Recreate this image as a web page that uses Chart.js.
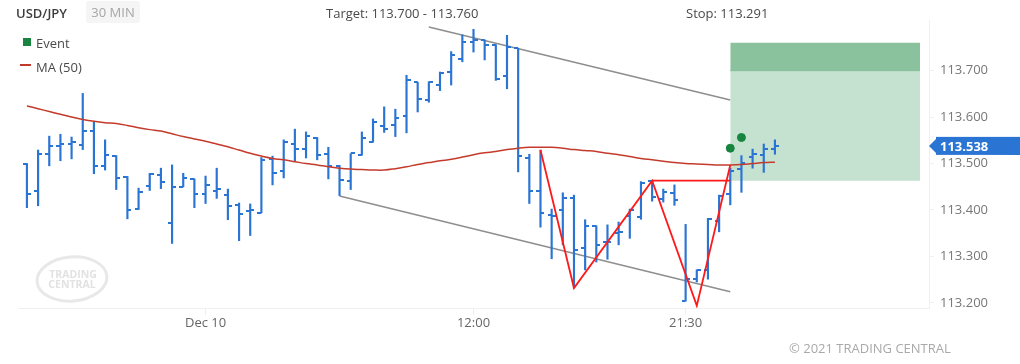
<!DOCTYPE html>
<html>
<head>
<meta charset="utf-8">
<script src="https://cdn.jsdelivr.net/npm/chart.js@4.4.0/dist/chart.umd.min.js"></script>
<style>
body { margin: 0; background: #fff; font-family: "Open Sans", sans-serif; }
#wrap { position: relative; width: 1020px; height: 364px; overflow: hidden; }
canvas { position: absolute; left: 0; top: 0; }
.t { position: absolute; font-size: 13px; color: #4a4a4a; white-space: nowrap; line-height: 18px; }
</style>
</head>
<body>
<div id="wrap">
  <canvas id="chart" width="1020" height="364"></canvas>
  <div class="t" style="left:16px;top:4px;font-weight:600;color:#3d3d3d;">USD/JPY</div>
  <div class="t" style="left:86px;top:1px;width:54px;height:22px;line-height:22px;text-align:center;background:#f5f5f5;border-radius:3px;color:#a6a6a6;">30 MIN</div>
  <div class="t" style="left:326px;top:4px;">Target: 113.700 - 113.760</div>
  <div class="t" style="left:686px;top:4px;">Stop: 113.291</div>
  <div style="position:absolute;left:23px;top:38px;width:8px;height:8px;background:#17843f;"></div>
  <div class="t" style="left:36px;top:34px;">Event</div>
  <div style="position:absolute;left:20px;top:64px;width:11px;height:2px;background:#c0392b;"></div>
  <div class="t" style="left:36px;top:58px;">MA (50)</div>
  <div class="t" style="left:789px;top:339px;color:#a9a9a9;">© 2021 TRADING CENTRAL</div>
</div>
<script>
// 30 min bars, index 0 = Dec 9 16:00
const opens  = [113.498,113.440,113.520,113.537,113.542,113.539,113.569,113.494,113.517,113.472,
                113.403,113.451,113.476,113.371,113.450,113.467,113.434,113.440,113.432,113.410,
                113.397,113.394,113.510,113.485,113.543,113.532,113.556,113.521,113.495,113.462,
                113.519,113.546,113.580,113.582,113.602,113.675,113.637,113.670,113.698,113.726,
                113.761,113.766,113.756,113.688,113.748,113.512,113.441,113.389,113.400,113.425,
                113.319,113.366,113.332,113.350,113.388,113.385,113.462,113.424,113.437,113.204,
                113.251,113.271,113.377,113.434,113.488,113.514,113.519,113.531];
const highs  = [113.500,113.529,113.559,113.563,113.557,113.651,113.591,113.551,113.517,113.472,
                113.447,113.479,113.490,113.497,113.479,113.467,113.473,113.490,113.445,113.415,
                113.413,113.513,113.516,113.551,113.574,113.568,113.556,113.535,113.496,113.521,
                113.568,113.596,113.622,113.617,113.690,113.675,113.676,113.697,113.741,113.777,
                113.789,113.766,113.756,113.776,113.748,113.520,113.529,113.402,113.437,113.432,
                113.379,113.366,113.368,113.374,113.402,113.461,113.462,113.445,113.454,113.369,
                113.271,113.382,113.432,113.490,113.517,113.531,113.542,113.551];
const lows   = [113.405,113.409,113.495,113.506,113.510,113.530,113.478,113.486,113.444,113.381,
                113.401,113.442,113.446,113.328,113.450,113.405,113.414,113.425,113.379,113.334,
                113.345,113.394,113.454,113.469,113.505,113.512,113.508,113.467,113.431,113.444,
                113.518,113.546,113.567,113.558,113.566,113.611,113.632,113.657,113.669,113.719,
                113.740,113.723,113.679,113.661,113.482,113.414,113.363,113.295,113.325,113.232,
                113.271,113.288,113.294,113.325,113.339,113.380,113.419,113.417,113.410,113.204,
                113.245,113.251,113.353,113.411,113.438,113.490,113.481,113.520];
const closes = [113.435,113.520,113.537,113.542,113.546,113.569,113.494,113.518,113.468,113.399,
                113.438,113.477,113.460,113.449,113.469,113.435,113.453,113.445,113.408,113.392,
                113.399,113.508,113.479,113.546,113.532,113.560,113.519,113.495,113.464,113.522,
                113.555,113.590,113.574,113.597,113.680,113.638,113.675,113.694,113.733,113.761,
                113.766,113.756,113.681,113.751,113.516,113.441,113.393,113.388,113.425,113.314,
                113.366,113.325,113.331,113.353,113.400,113.458,113.429,113.438,113.422,113.251,
                113.271,113.380,113.431,113.484,113.502,113.520,113.531,113.538];
const ma50   = [113.624,113.618,113.612,113.606,113.600,113.595,113.591,113.588,113.586,113.582,
                113.577,113.573,113.570,113.564,113.558,113.553,113.548,113.542,113.536,113.529,
                113.522,113.516,113.511,113.508,113.504,113.500,113.497,113.493,113.490,113.488,
                113.487,113.486,113.486,113.489,113.493,113.498,113.502,113.506,113.509,113.514,
                113.519,113.523,113.526,113.530,113.533,113.535,113.535,113.535,113.533,113.530,
                113.528,113.526,113.522,113.519,113.515,113.511,113.508,113.505,113.502,113.500,
                113.499,113.498,113.497,113.497,113.498,113.500,113.502,113.503];

const eventIdx = [63, 64];
const eventVal = [113.533, 113.556];

const channelUpper = [[36, 113.794], [63, 113.637]];
const channelLower = [[28, 113.430], [63, 113.224]];
const zigzag = [[46, 113.529], [49, 113.232], [56, 113.463], [60, 113.194], [63, 113.497]];
const neckline = [[56, 113.463], [63, 113.463]];

const zoneStart = 63, zoneEnd = 80;
const entry = 113.463, target1 = 113.700, target2 = 113.760;

const xTickPos = [16, 40, 59];
const xTickLabels = ['Dec 10', '12:00', '21:30'];
const yTicks = [113.2, 113.3, 113.4, 113.5, 113.6, 113.7];

const BLUE = '#2a74d4';

function tickImg(side) {
  const c = document.createElement('canvas');
  c.width = 8; c.height = 2;
  const g = c.getContext('2d');
  g.fillStyle = BLUE;
  if (side < 0) g.fillRect(0, 0, 4, 2); else g.fillRect(4, 0, 4, 2);
  return c;
}

const pts = arr => arr.map(p => ({x: p[0], y: p[1]}));

const lastPrice = {
  id: 'lastPrice',
  afterDraw(chart) {
    const g = chart.ctx, y = chart.scales.y.getPixelForValue(closes[closes.length - 1]);
    const x0 = chart.chartArea.right;
    g.save();
    g.fillStyle = BLUE;
    g.beginPath();
    g.moveTo(x0, y);
    g.lineTo(x0 + 7, y - 7);
    g.lineTo(1020, y - 9);
    g.lineTo(1020, y + 9);
    g.lineTo(x0 + 7, y + 7);
    g.closePath();
    g.fill();
    g.fillRect(x0 + 7, y - 9, 1020 - x0 - 7, 18);
    g.fillStyle = '#fff';
    g.font = 'bold 13px "Open Sans"';
    g.textBaseline = 'middle';
    g.fillText(closes[closes.length - 1].toFixed(3), x0 + 11, y + 1);
    g.restore();
  }
};

const watermark = {
  id: 'watermark',
  beforeDatasetsDraw(chart) {
    const g = chart.ctx;
    g.save();
    g.strokeStyle = '#e8e8e8';
    g.lineWidth = 3;
    g.beginPath();
    g.ellipse(72, 279, 35, 22, -0.08, 0, Math.PI * 2);
    g.stroke();
    g.fillStyle = '#e2e2e2';
    g.font = 'bold 10.5px "Open Sans"';
    g.textAlign = 'center';
    g.fillText('TRADING', 73, 278);
    g.fillText('CENTRAL', 72, 288);
    g.restore();
  }
};

new Chart(document.getElementById('chart'), {
  type: 'bar',
  data: {
    datasets: [
      {
        type: 'line', label: 'target', order: 20,
        data: [{x: zoneStart, y: target2}, {x: zoneEnd, y: target2}],
        fill: {value: target1}, backgroundColor: '#8bc29e', borderWidth: 0, pointRadius: 0
      },
      {
        type: 'line', label: 'zone', order: 21,
        data: [{x: zoneStart, y: target1}, {x: zoneEnd, y: target1}],
        fill: {value: entry}, backgroundColor: '#c5e1d0', borderColor: '#72b68c', borderWidth: 1, pointRadius: 0
      },
      {
        type: 'line', label: 'upper', order: 8, data: pts(channelUpper),
        borderColor: '#8e8e8e', borderWidth: 1.5, pointRadius: 0
      },
      {
        type: 'line', label: 'lower', order: 8, data: pts(channelLower),
        borderColor: '#8e8e8e', borderWidth: 1.5, pointRadius: 0
      },
      {
        label: 'range', order: 5,
        data: lows.map((l, i) => ({x: i, y: [l, highs[i]]})),
        backgroundColor: BLUE, barThickness: 1.5, grouped: false
      },
      {
        type: 'scatter', label: 'open', order: 4,
        data: opens.map((v, i) => ({x: i, y: v})),
        pointStyle: tickImg(-1), pointRadius: 4
      },
      {
        type: 'scatter', label: 'close', order: 4,
        data: closes.map((v, i) => ({x: i, y: v})),
        pointStyle: tickImg(1), pointRadius: 4
      },
      {
        type: 'line', label: 'MA (50)', order: 3,
        data: ma50.map((v, i) => ({x: i, y: v})),
        borderColor: '#c43b2c', borderWidth: 1.5, pointRadius: 0, tension: 0.4
      },
      {
        type: 'line', label: 'pattern', order: 2, data: pts(zigzag),
        borderColor: '#ff1a1a', borderWidth: 1.8, pointRadius: 0
      },
      {
        type: 'line', label: 'neck', order: 2, data: pts(neckline),
        borderColor: '#ff1a1a', borderWidth: 1.8, pointRadius: 0
      },
      {
        type: 'scatter', label: 'Event', order: 1,
        data: eventIdx.map((x, i) => ({x: x, y: eventVal[i]})),
        backgroundColor: '#17843f', borderColor: '#17843f', pointRadius: 4
      }
    ]
  },
  options: {
    responsive: false,
    animation: false,
    layout: { padding: { top: 20, left: 18, right: 0, bottom: 0 } },
    plugins: { legend: { display: false }, tooltip: { enabled: false } },
    scales: {
      x: {
        type: 'linear', min: -0.8, max: 80.8, offset: false,
        grid: { offset: false, drawOnChartArea: false, tickLength: 7, color: '#eeeeee' },
        border: { color: '#f0f0f0' },
        afterBuildTicks: s => { s.ticks = xTickPos.map(v => ({value: v})); },
        afterFit: s => { s.height = 56; },
        ticks: {
          autoSkip: false, maxRotation: 0, padding: 0, color: '#666',
          font: { family: '"Open Sans"', size: 13 },
          callback: v => xTickLabels[xTickPos.indexOf(v)]
        }
      },
      y: {
        position: 'right', min: 113.189, max: 113.809, beginAtZero: false,
        grid: { drawOnChartArea: false, tickLength: 5, color: '#f0f0f0' },
        border: { color: '#f0f0f0' },
        afterBuildTicks: s => { s.ticks = yTicks.map(v => ({value: v})); },
        afterFit: s => { s.width = 91; },
        ticks: {
          padding: 6, color: '#777',
          font: { family: '"Open Sans"', size: 13 },
          callback: v => v.toFixed(3)
        }
      }
    }
  },
  plugins: [watermark, lastPrice]
});
</script>
</body>
</html>
